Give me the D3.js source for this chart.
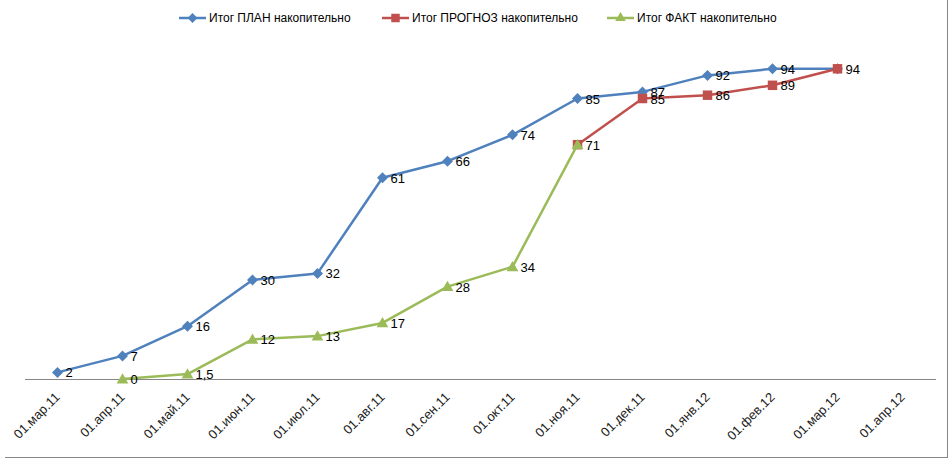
<!DOCTYPE html>
<head>
   <meta charset="utf-8">
   <script src="https://d3js.org/d3.v7.min.js"></script>
   <style>
      body { margin: 0; background: #ffffff; }
      text { font-family: "Liberation Sans Narrow", "Liberation Sans", Arial, sans-serif; font-size: 13px; fill: #000000; }
      text.legend { font-size: 12px; }
      text.tickLabel { font-family: "Liberation Sans", Arial, sans-serif; font-size: 13px; fill: #222; }
      .axisLine { stroke: #868686; stroke-width: 1; shape-rendering: crispEdges; }
   </style>
</head>
<body>
<script>
   // categories
   const months = ['01.мар.11', '01.апр.11', '01.май.11', '01.июн.11', '01.июл.11', '01.авг.11', '01.сен.11',
      '01.окт.11', '01.ноя.11', '01.дек.11', '01.янв.12', '01.фев.12', '01.мар.12', '01.апр.12'];

   // series (null = no point)
   const planValues = [2, 7, 16, 30, 32, 61, 66, 74, 85, 87, 92, 94, 94, null];
   const forecastValues = [null, null, null, null, null, null, null, null, 71, 85, 86, 89, 94, null];
   const factValues = [null, 0, 1.5, 12, 13, 17, 28, 34, 71, null, null, null, null, null];

   const seriesNames = ['Итог ПЛАН накопительно', 'Итог ПРОГНОЗ накопительно', 'Итог ФАКТ накопительно'];

   const width = 952, height = 462;
   const margin = { top: 49, right: 17, bottom: 83, left: 25 };

   const svg = d3.select('body').append('svg')
      .attr('width', width)
      .attr('height', height);

   // sheet frame remnants
   svg.append('line').attr('class', 'axisLine')
      .attr('x1', 947.5).attr('x2', 947.5).attr('y1', 0).attr('y2', 458);
   svg.append('line').attr('class', 'axisLine')
      .attr('x1', 5).attr('x2', 948).attr('y1', 457.5).attr('y2', 457.5);

   const x = d3.scaleBand()
      .domain(months)
      .range([margin.left, width - margin.right]);

   const y = d3.scaleLinear()
      .domain([0, 100])
      .range([height - margin.bottom, margin.top]);

   const cx = d => x(d) + x.bandwidth() / 2;

   // x axis
   const xAxis = d3.axisBottom(x).tickSize(0).tickPadding(0);
   const gx = svg.append('g')
      .attr('transform', `translate(0, ${y(0)})`)
      .call(xAxis);
   gx.select('.domain').attr('class', 'axisLine').attr('d', `M${margin.left},0.5H${width - margin.right + 1}`);
   gx.selectAll('.tick text')
      .attr('class', 'tickLabel')
      .attr('text-anchor', 'end')
      .attr('dy', 0)
      .attr('transform', 'translate(3, 19) rotate(-45)');

   const fmt = v => String(v).replace('.', ',');

   // excel-like diamond: a square turned 45 degrees
   const diamond = {
      draw(context, size) {
         const r = Math.sqrt(size / 2);
         context.moveTo(0, -r);
         context.lineTo(r, 0);
         context.lineTo(0, r);
         context.lineTo(-r, 0);
         context.closePath();
      }
   };

   const series = [
      { name: seriesNames[0], values: planValues, color: '#4F81BD', marker: diamond, size: 60, labels: [true, true, true, true, true, true, true, true, true, true, true, true, false, false] },
      { name: seriesNames[1], values: forecastValues, color: '#C0504D', marker: d3.symbolSquare, size: 90, labels: null },
      { name: seriesNames[2], values: factValues, color: '#9BBB59', marker: d3.symbolTriangle, size: 60, labels: [true, true, true, true, true, true, true, true, false, false, false, false, false, false] }
   ];

   const line = d3.line()
      .defined(d => d.v != null)
      .x(d => cx(d.m))
      .y(d => y(d.v));

   series.forEach(s => {
      const pts = months.map((m, i) => ({ m: m, v: s.values[i], i: i }));
      const g = svg.append('g');
      g.append('path')
         .datum(pts)
         .attr('fill', 'none')
         .attr('stroke', s.color)
         .attr('stroke-width', 2.5)
         .attr('stroke-linejoin', 'round')
         .attr('d', line);
      g.selectAll('path.marker')
         .data(pts.filter(d => d.v != null))
         .enter().append('path')
         .attr('class', 'marker')
         .attr('d', d3.symbol().type(s.marker).size(s.size))
         .attr('transform', d => `translate(${cx(d.m)}, ${y(d.v) + (s.marker === d3.symbolTriangle ? 1 : 0)})`)
         .attr('fill', s.color);
      s.pts = pts;
   });

   // data labels (drawn last so they sit on top)
   series.forEach(s => {
      svg.append('g').selectAll('text')
         .data(s.pts.filter(d => d.v != null && (!s.labels || s.labels[d.i])))
         .enter().append('text')
         .attr('x', d => cx(d.m) + 8)
         .attr('y', d => y(d.v) + 5)
         .text(d => fmt(d.v));
   });

   // legend
   const legendX = [179, 382, 607];
   const legend = svg.append('g');
   series.forEach((s, i) => {
      const g = legend.append('g').attr('transform', `translate(${legendX[i]}, 18)`);
      g.append('line').attr('x1', 0).attr('x2', 27).attr('y1', 0).attr('y2', 0)
         .attr('stroke', s.color).attr('stroke-width', 2.5);
      g.append('path').attr('d', d3.symbol().type(s.marker).size(s.size * 0.8))
         .attr('transform', 'translate(13.5, 0)').attr('fill', s.color);
      g.append('text').attr('class', 'legend')
         .attr('x', 30).attr('y', 4)
         .text(s.name);
   });
</script>
</body>
